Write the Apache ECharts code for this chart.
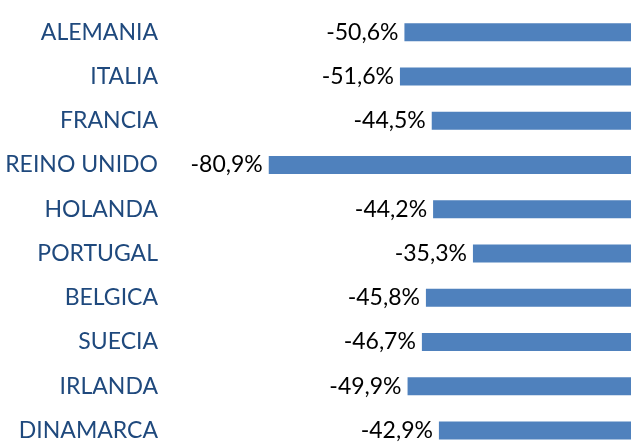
<!DOCTYPE html>
<html>
<head>
<meta charset="utf-8">
<script src="https://cdn.jsdelivr.net/npm/echarts@6/dist/echarts.min.js"></script>
<style>
  html, body { margin: 0; padding: 0; background: #fff; overflow: hidden; }
  #chart { width: 631px; height: 470px; }
</style>
</head>
<body>
<div id="chart"></div>
<script>
// 国家
const countries = ["ALEMANIA", "ITALIA", "FRANCIA", "REINO UNIDO", "HOLANDA",
  "PORTUGAL", "BELGICA", "SUECIA", "IRLANDA", "DINAMARCA"];
// 变化率 (%)
const changes = [-50.6, -51.6, -44.5, -80.9, -44.2, -35.3, -45.8, -46.7, -49.9, -42.9];

const chart = echarts.init(document.getElementById("chart"));

const option = {
  animation: false,
  backgroundColor: "#fff",
  grid: {
    left: 228,
    top: 10,
    width: 407,
    height: 442.5,
  },
  xAxis: {
    type: "value",
    min: -90,
    max: 0,
    show: false,
  },
  yAxis: {
    type: "category",
    inverse: true,
    data: countries,
    axisLine: { show: false },
    axisTick: { show: false },
    axisLabel: {
      margin: 70,
      color: "#1F497D",
      fontFamily: "Lato",
      fontSize: 23,
    },
  },
  series: [
    {
      type: "bar",
      data: changes,
      barWidth: 18,
      itemStyle: { color: "#4F81BD" },
      label: {
        show: true,
        position: "left",
        distance: 6,
        color: "#000",
        fontFamily: "Lato",
        fontSize: 23,
        formatter: (p) => p.value.toFixed(1).replace(".", ",") + "%",
      },
    },
  ],
};

chart.setOption(option);
</script>
</body>
</html>
